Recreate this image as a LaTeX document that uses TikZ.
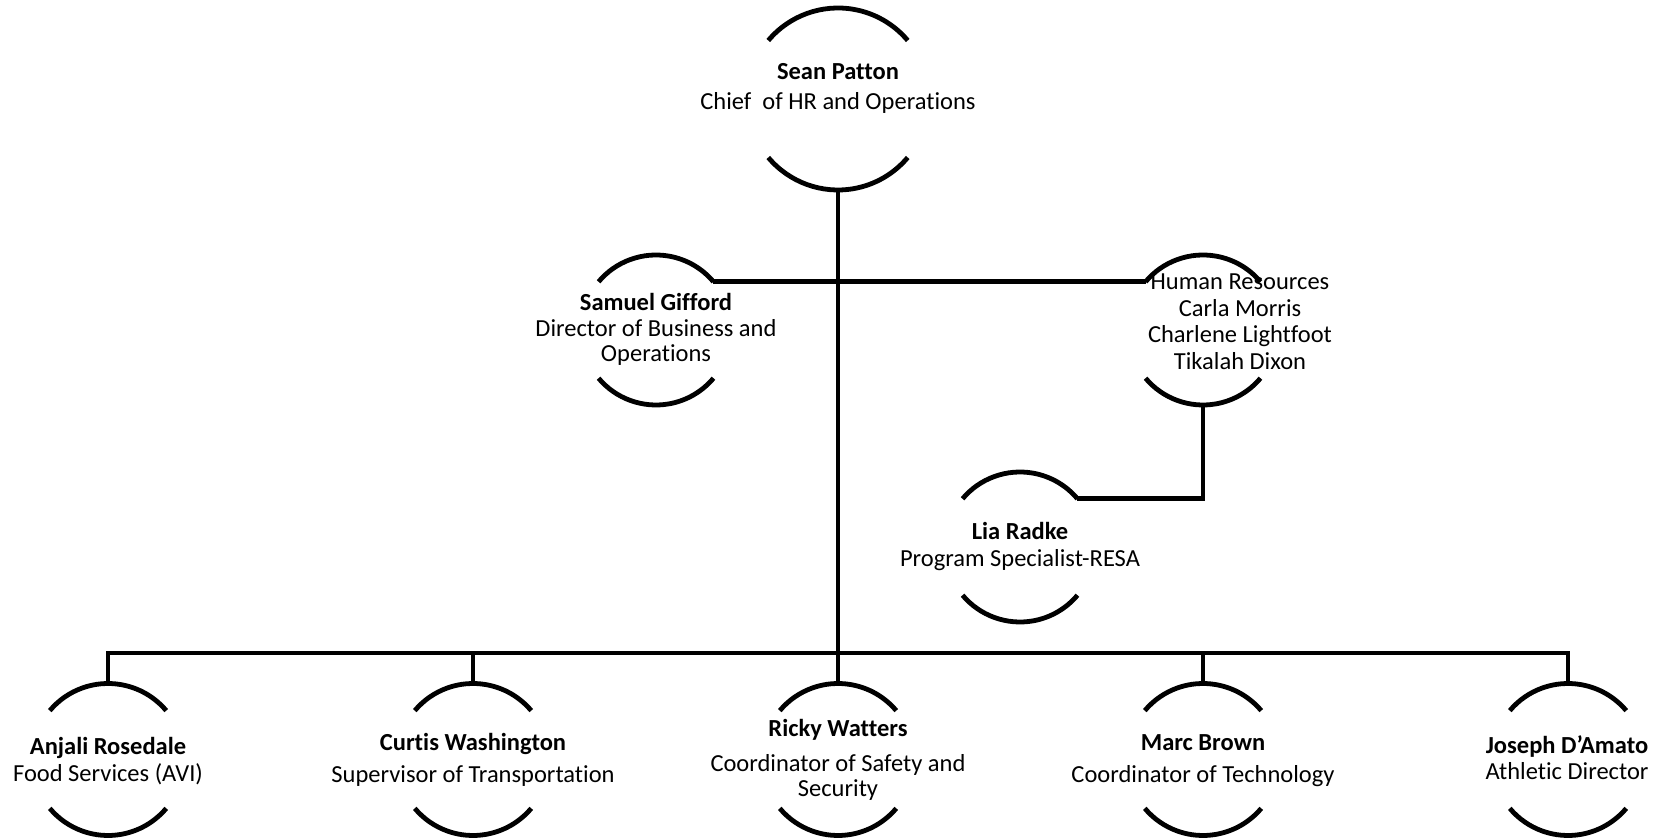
\documentclass[tikz,border=0pt]{standalone}
\usepackage{fontspec}
\setmainfont{Carlito}[Ligatures={NoCommon}]
\begin{document}
\begin{tikzpicture}[x=1pt,y=1pt,
  ring/.style={circle,draw=none,inner sep=0pt,outer sep=0pt,minimum size=#1},
  arcline/.style={line width=4.8pt,black},
  conn/.style={line width=4.8pt,black,line join=miter},
  label/.style={anchor=base,align=center,inner sep=0pt,font=\fontsize{24.5}{25.5}\selectfont}]
\useasboundingbox (0,0) rectangle (1668,838);
% circles (invisible shapes used as anchors)
\node[ring=182pt] (top) at (838,739) {};
\node[ring=150pt] (gifford) at (656,508) {};
\node[ring=150pt] (hr) at (1203,508) {};
\node[ring=150pt] (lia) at (1020,291) {};
\node[ring=152pt] (anjali) at (108,78.5) {};
\node[ring=152pt] (curtis) at (473,78.5) {};
\node[ring=152pt] (ricky) at (838,78.5) {};
\node[ring=152pt] (marc) at (1203,78.5) {};
\node[ring=152pt] (joseph) at (1568,78.5) {};
% arcs
\draw[arcline] (top.140) arc (140:40:91);
\draw[arcline] (top.220) arc (220:320:91);
\foreach \n in {gifford,hr,lia}{
  \draw[arcline] (\n.140) arc (140:40:75);
  \draw[arcline] (\n.220) arc (220:320:75);
}
\foreach \n in {anjali,curtis,ricky,marc,joseph}{
  \draw[arcline] (\n.140) arc (140:40:76);
  \draw[arcline] (\n.220) arc (220:320:76);
}
% texts (anchor = baseline of the last line)
\node[label] (t-top) at (838,728) {\textbf{Sean Patton}\\[4.5pt]Chief\ \ of HR and Operations};
\node[label] (t-gifford) at (656,476) {\textbf{Samuel Gifford}\\Director of Business and\\Operations};
\node[label] (t-hr) at (1240,468) {Human Resources\\[1.5pt]Carla Morris\\[1pt]Charlene Lightfoot\\[1.5pt]Tikalah Dixon};
\node[label] (t-lia) at (1020,271) {\textbf{Lia Radke}\\[1.5pt]Program Specialist-RESA};
\node[label] (t-anjali) at (108,56) {\textbf{Anjali Rosedale}\\[1.5pt]Food Services (AVI)};
\node[label] (t-curtis) at (473,55) {\textbf{Curtis Washington}\\[7.5pt]Supervisor of Transportation};
\node[label] (t-ricky) at (838,41) {\textbf{Ricky Watters}\\[9.5pt]Coordinator of Safety and\\Security};
\node[label] (t-marc) at (1203,55) {\textbf{Marc Brown}\\[7.5pt]Coordinator of Technology};
\node[label] (t-joseph) at (1567,58) {\textbf{Joseph D’Amato}\\[0.5pt]Athletic Director};
% connectors
\coordinate (bar) at (838,185);
\draw[conn] (top.south) -- (ricky.north);
\draw[conn] (gifford.40) -- (hr.140);
\draw[conn] (lia.40) -| (hr.south);
\draw[conn] (anjali.north) -- (anjali.north |- bar) -- (joseph.north |- bar) -- (joseph.north);
\draw[conn] (curtis.north) -- (curtis.north |- bar);
\draw[conn] (marc.north) -- (marc.north |- bar);
\end{tikzpicture}
\end{document}
